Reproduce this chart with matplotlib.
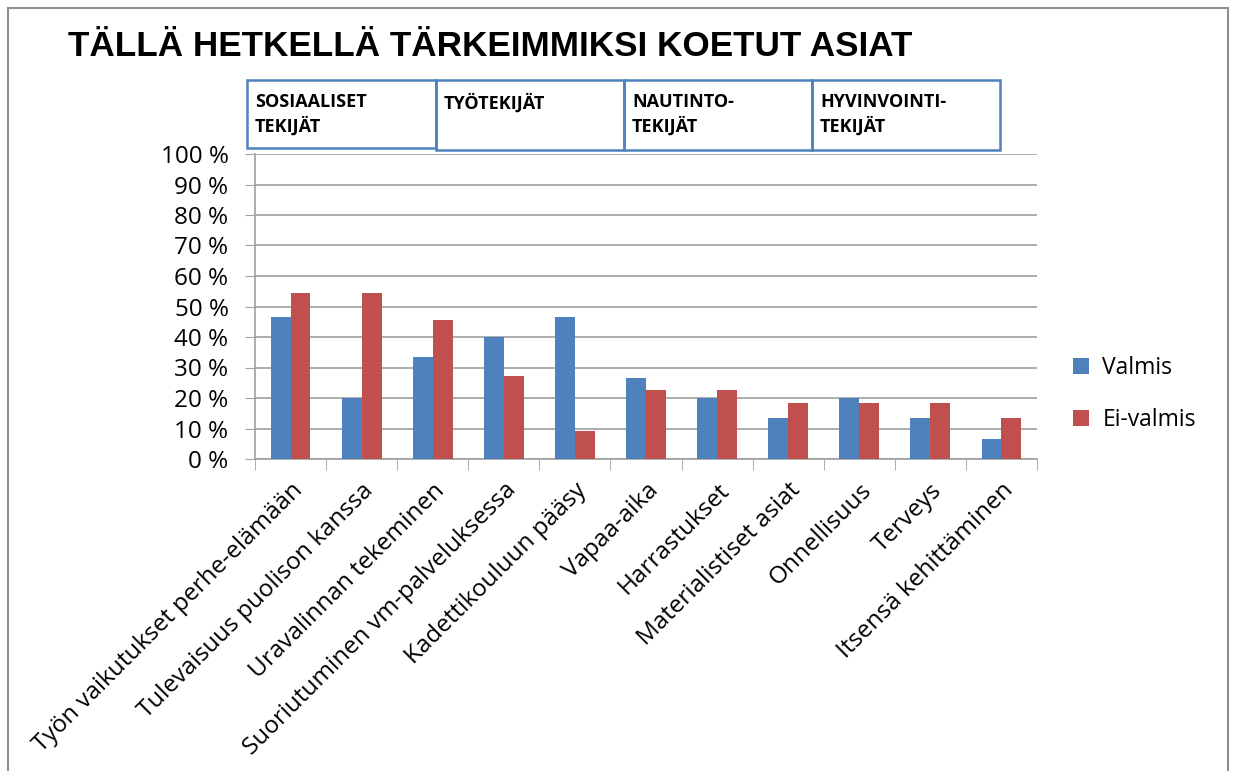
import matplotlib.pyplot as plt
import numpy as np
from matplotlib.patches import Rectangle

plt.rcParams['font.family'] = ['Open Sans', 'DejaVu Sans']

categories = ["Työn vaikutukset perhe-elämään", "Tulevaisuus puolison kanssa",
              "Uravalinnan tekeminen", "Suoriutuminen vm-palveluksessa",
              "Kadettikouluun pääsy", "Vapaa-aika", "Harrastukset",
              "Materialistiset asiat", "Onnellisuus", "Terveys",
              "Itsensä kehittäminen"]
valmis = [46.7, 20.0, 33.3, 40.0, 46.7, 26.7, 20.0, 13.3, 20.0, 13.3, 6.7]
ei_valmis = [54.5, 54.5, 45.5, 27.3, 9.1, 22.7, 22.7, 18.2, 18.2, 18.2, 13.6]
groups = ["SOSIAALISET\nTEKIJÄT", "TYÖTEKIJÄT", "NAUTINTO-\nTEKIJÄT", "HYVINVOINTI-\nTEKIJÄT"]

W, H = 1234, 771
fig = plt.figure(figsize=(W / 100, H / 100), dpi=100)
ax = fig.add_axes([255 / W, 1 - 459 / H, (1037 - 255) / W, (459 - 154) / H])

x = np.arange(len(categories))
width = 0.28
ax.bar(x - width / 2, valmis, width, color="#4F81BD", label="Valmis", zorder=3)
ax.bar(x + width / 2, ei_valmis, width, color="#C0504D", label="Ei-valmis", zorder=3)

ax.set_xlim(-0.5, len(categories) - 0.5)
ax.set_ylim(0, 100)
ax.set_yticks(np.arange(0, 101, 10))
ax.set_yticklabels([f"{v} %" for v in range(0, 101, 10)], fontsize=17.5)
ax.yaxis.grid(True, color="#A0A0A0", linewidth=1.2, zorder=0)
ax.tick_params(axis="y", length=7, color="#A0A0A0", pad=12)

ax.set_xticks(x)
ax.set_xticklabels(categories, rotation=45, ha="right", rotation_mode="anchor", fontsize=17.5)
ax.tick_params(axis="x", length=0, pad=14)
ax.set_xticks(np.arange(-0.5, len(categories)), minor=True)
ax.tick_params(axis="x", which="minor", length=8, color="#A0A0A0")

for s in ["top", "right"]:
    ax.spines[s].set_visible(False)
for s in ["left", "bottom"]:
    ax.spines[s].set_color("#A0A0A0")
    ax.spines[s].set_linewidth(1.2)

fig.legend(*ax.get_legend_handles_labels(), loc="center left",
           bbox_to_anchor=(1052 / W, 1 - 394 / H), frameon=False,
           fontsize=16.5, handlelength=0.7, handleheight=0.7, labelspacing=1.2,
           handletextpad=0.6)

fig.text(68 / W, 1 - 46 / H, "TÄLLÄ HETKELLÄ TÄRKEIMMIKSI KOETUT ASIAT",
         fontsize=25.3, fontweight="bold", family=["Liberation Sans", "DejaVu Sans"],
         va="center", ha="left")

# category group boxes
box_x = [247, 436, 624, 812, 1000]
for i, g in enumerate(groups):
    x0, x1 = box_x[i], box_x[i + 1]
    y1 = 148 if i == 0 else 150
    fig.patches.append(Rectangle((x0 / W, 1 - y1 / H), (x1 - x0) / W, (y1 - 80) / H,
                                 transform=fig.transFigure, fill=False,
                                 edgecolor="#4F81BD", linewidth=1.8))
    fig.text((x0 + 8) / W, 1 - 93 / H, g, fontsize=13, fontweight="bold",
             va="top", ha="left", linespacing=1.35)

# outer frame
fig.patches.append(Rectangle((8 / W, -0.01), (1228 - 8) / W, 1 - 8 / H + 0.01,
                             transform=fig.transFigure, fill=False,
                             edgecolor="#909090", linewidth=1.5))

plt.savefig("out.png", dpi=100)
